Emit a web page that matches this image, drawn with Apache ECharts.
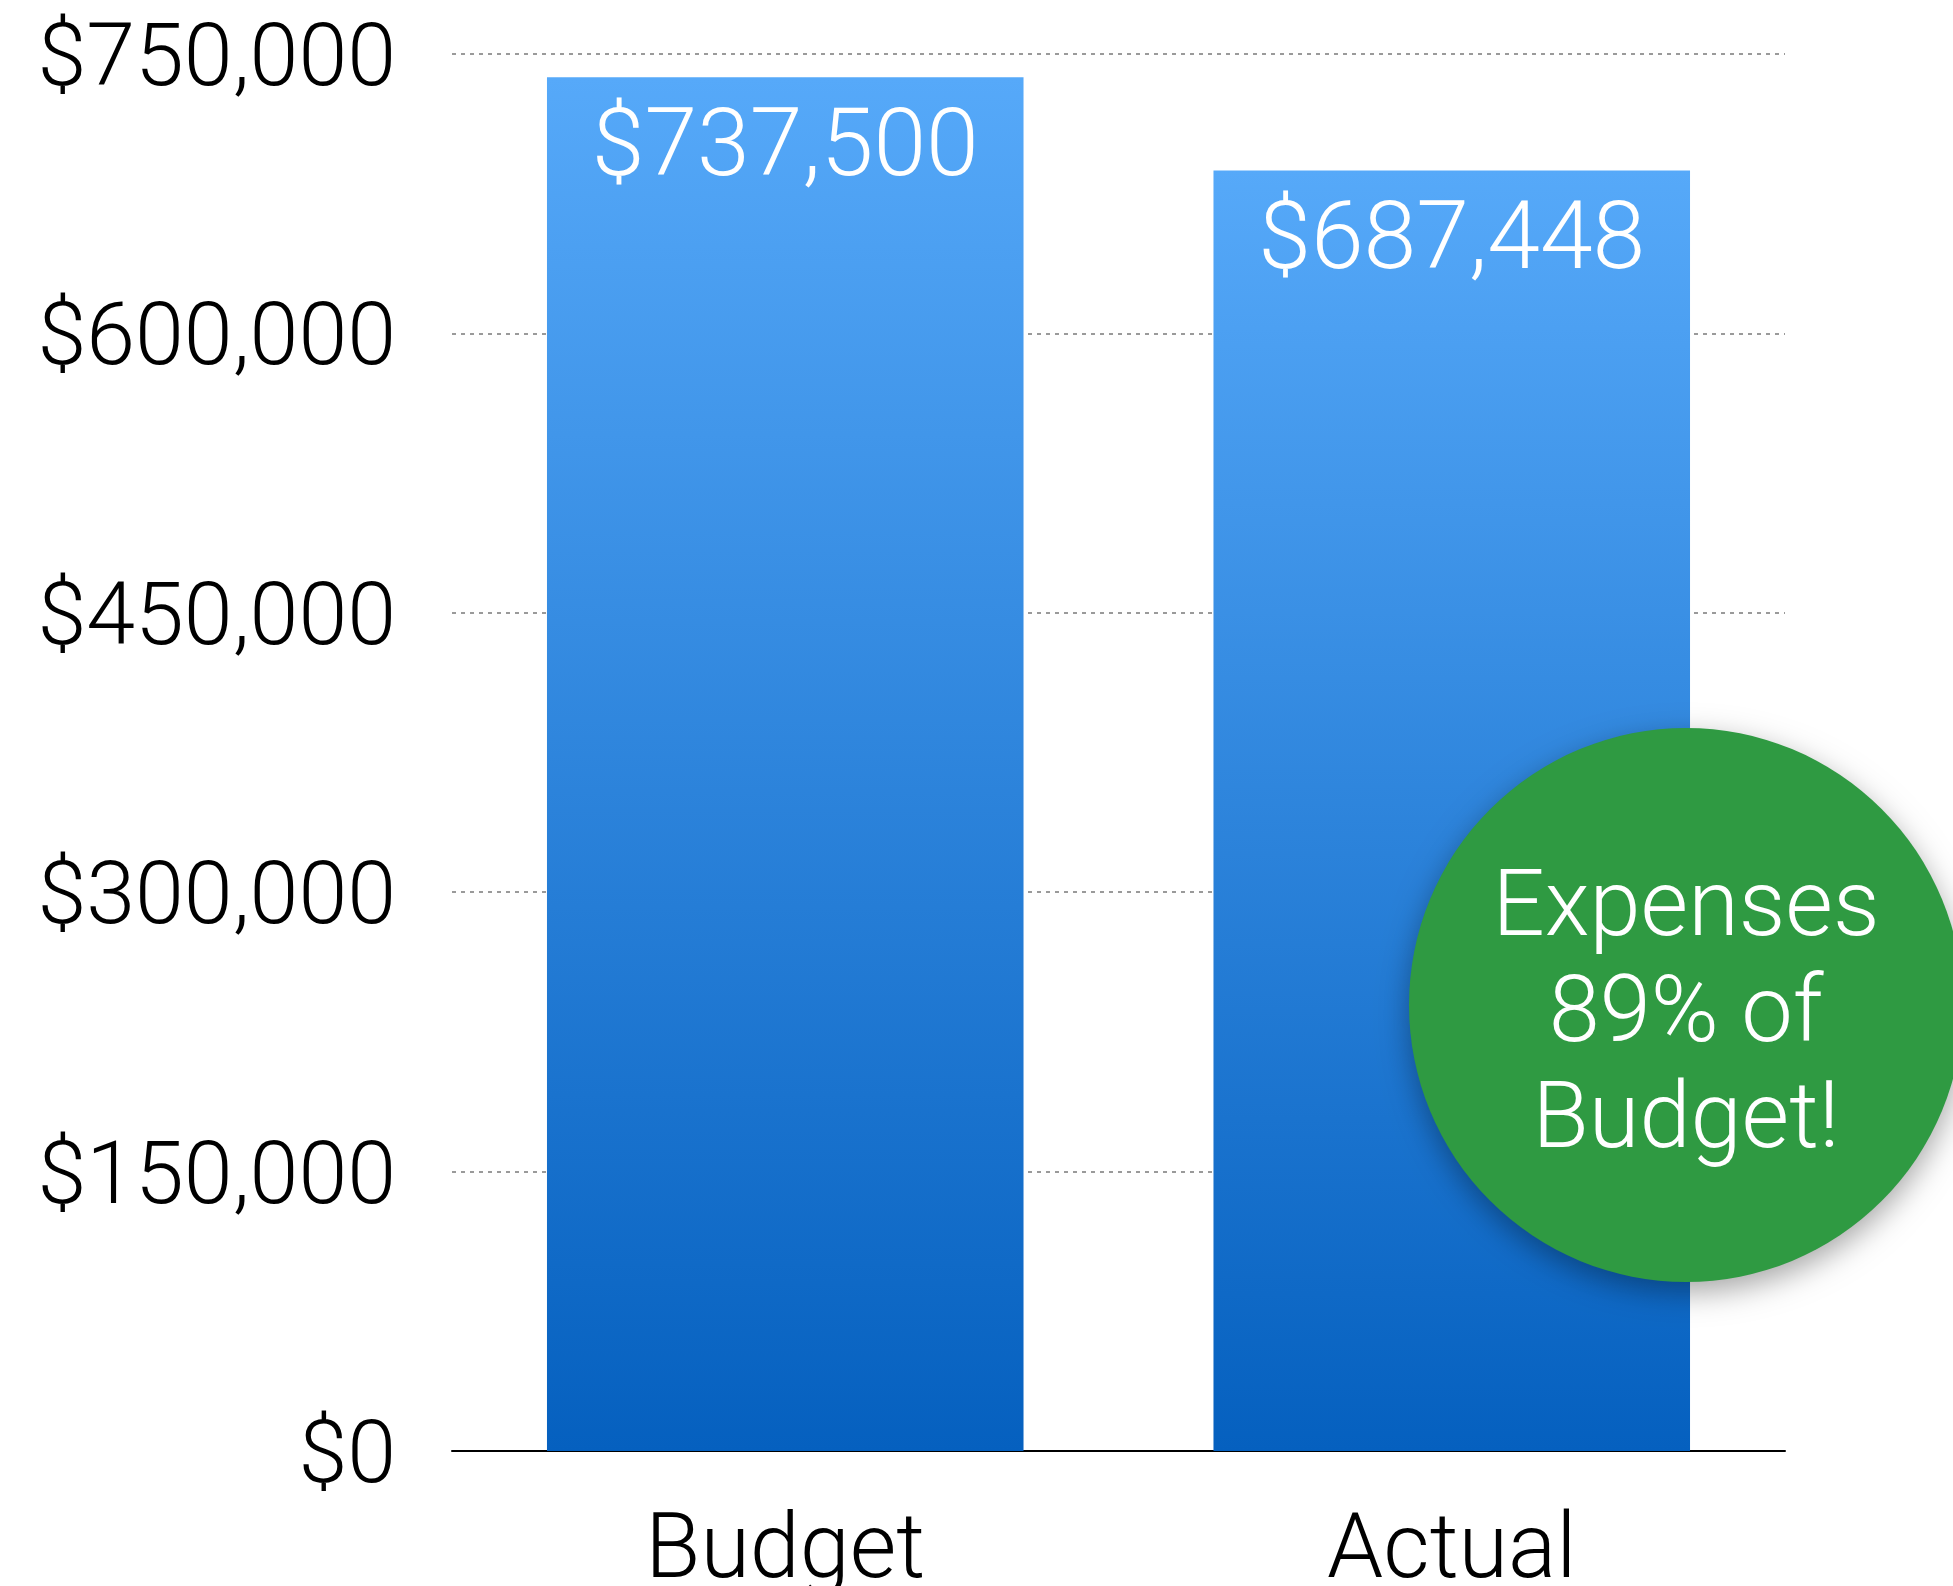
<!DOCTYPE html>
<html>
<head>
<meta charset="utf-8">
<script src="https://cdn.jsdelivr.net/npm/echarts@6/dist/echarts.min.js"></script>
<style>
html,body{margin:0;padding:0;background:#fff;}
#c{width:1953px;height:1586px;}
</style>
</head>
<body>
<div id="c"></div>
<script>
const categories = ['Budget', 'Actual'];
const values = [737500, 687448];
const yTicks = { min: 0, max: 750000, interval: 150000 };
const calloutLines = ['Expenses', '89% of', 'Budget!'];

const FONT = 'Roboto';
const fmt = v => '$' + Math.round(v).toLocaleString('en-US');

const chart = echarts.init(document.getElementById('c'), null, { renderer: 'canvas' });
chart.setOption({
  animation: false,
  backgroundColor: '#ffffff',
  grid: { left: 452, right: 168, top: 54, bottom: 135, containLabel: false, outerBoundsMode: 'none' },
  xAxis: {
    type: 'category',
    data: categories,
    axisLine: { show: true, lineStyle: { color: '#000', width: 2 } },
    axisTick: { show: false },
    axisLabel: { color: '#000', fontFamily: FONT, fontWeight: 300, fontSize: 90, margin: 58 }
  },
  yAxis: {
    type: 'value',
    min: yTicks.min, max: yTicks.max, interval: yTicks.interval,
    axisLine: { show: false },
    axisTick: { show: false },
    axisLabel: { color: '#000', fontFamily: FONT, fontWeight: 300, fontSize: 88, margin: 56,
      verticalAlign: 'top', lineHeight: 18, formatter: fmt },
    splitLine: { show: true, lineStyle: { color: '#9a9a9a', width: 2, type: [4, 5] } }
  },
  series: [{
    type: 'bar',
    data: values,
    barWidth: '71.5%',
    itemStyle: {
      color: new echarts.graphic.LinearGradient(0, 0, 0, 1, [
        { offset: 0, color: '#56A9F9' },
        { offset: 1, color: '#0560BF' }
      ])
    },
    label: {
      show: true,
      position: 'insideTop',
      distance: 26,
      color: '#ffffff',
      fontFamily: FONT,
      fontWeight: 300,
      fontSize: 95,
      formatter: p => fmt(p.value)
    }
  }],
  graphic: [
    {
      type: 'circle',
      z: 100,
      shape: { cx: 1686, cy: 1005, r: 277 },
      style: {
        fill: '#2F9A42',
        shadowColor: 'rgba(0,0,0,0.35)',
        shadowBlur: 30,
        shadowOffsetY: 10
      }
    },
    {
      type: 'text',
      z: 101,
      x: 1686,
      y: 1018,
      style: {
        text: calloutLines.join('\n'),
        fill: '#ffffff',
        font: '300 92px ' + FONT,
        lineHeight: 106,
        align: 'center',
        verticalAlign: 'middle'
      }
    }
  ]
});
</script>
</body>
</html>
